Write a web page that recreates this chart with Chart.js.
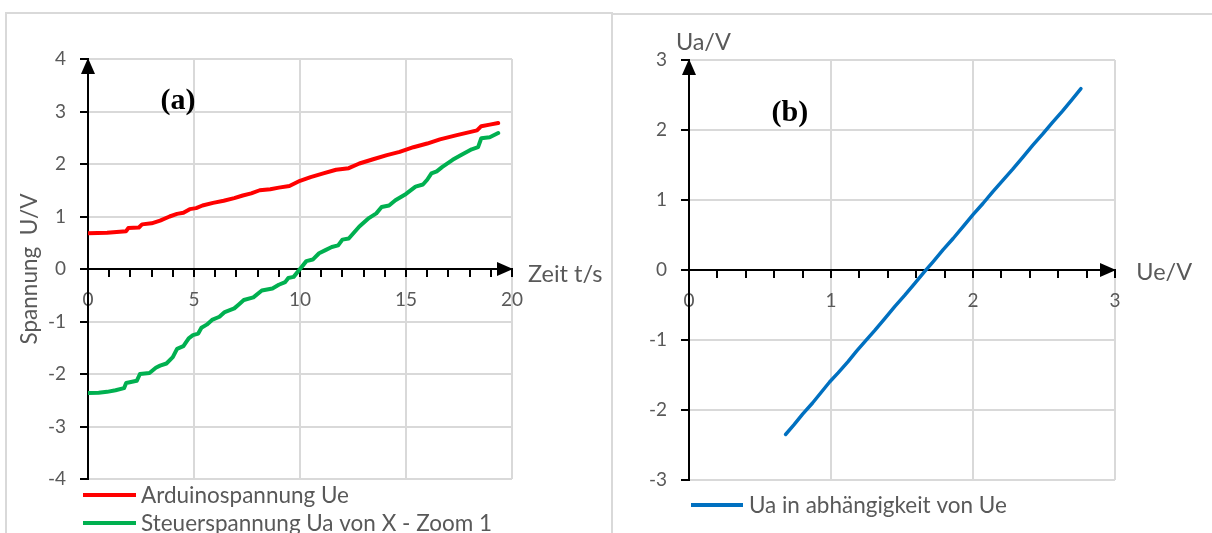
<!DOCTYPE html>
<html>
<head>
<meta charset="utf-8">
<script src="https://cdn.jsdelivr.net/npm/chart.js@4/dist/chart.umd.min.js"></script>
<style>
  html, body { margin: 0; padding: 0; background: #ffffff; width: 1212px; height: 533px; overflow: hidden; }
  .frame { position: absolute; box-sizing: border-box; border: 2px solid #d9d9d9; }
  #frameA { left: 5px; top: 12px; width: 608px; height: 540px; }
  #frameB { left: 611px; top: 13px; width: 620px; height: 540px; }
  canvas { position: absolute; top: 0; }
  #chartA { left: 0; }
  #chartB { left: 612px; }
</style>
</head>
<body>
<div class="frame" id="frameA"></div>
<div class="frame" id="frameB"></div>
<canvas id="chartA" width="611" height="533"></canvas>
<canvas id="chartB" width="600" height="533"></canvas>
<script>
// Panel (a): measured voltages over time
const timeUe = [0, 0.9, 1.5, 1.8, 1.9, 2.4, 2.55, 3.0, 3.4, 3.85, 4.2, 4.5, 4.8, 5.1, 5.4, 5.9, 6.4, 6.9, 7.3, 7.7,
                8.1, 8.6, 9.0, 9.5, 10.0, 10.5, 11.1, 11.7, 12.3, 12.8, 13.45, 14.1, 14.7, 15.35, 16.0, 16.6, 17.4, 18.35, 18.55, 18.95, 19.35];
const arduinoUe = [0.68, 0.69, 0.71, 0.72, 0.78, 0.79, 0.85, 0.87, 0.92, 1.0, 1.05, 1.07, 1.14, 1.16, 1.21, 1.26, 1.30, 1.35, 1.40, 1.44,
                   1.50, 1.52, 1.55, 1.58, 1.68, 1.75, 1.82, 1.89, 1.92, 2.01, 2.09, 2.17, 2.23, 2.32, 2.39, 2.47, 2.55, 2.64, 2.72, 2.75, 2.78];

const timeUa = [0, 0.5, 0.9, 1.3, 1.7, 1.8, 2.3, 2.45, 2.9, 3.2, 3.4, 3.7, 4.0, 4.2, 4.5, 4.75, 4.95, 5.2, 5.35, 5.6,
                5.85, 6.2, 6.45, 6.9, 7.1, 7.35, 7.8, 8.2, 8.7, 9.0, 9.3, 9.45, 9.7, 10.0, 10.3, 10.6, 10.9, 11.2, 11.5, 11.8,
                12.0, 12.3, 12.8, 13.25, 13.6, 13.85, 14.2, 14.5, 15.0, 15.45, 15.8, 16.0, 16.2, 16.45, 16.7, 17.2, 17.6, 18.1, 18.4, 18.55,
                18.95, 19.35];
const steuerUa = [-2.36, -2.355, -2.34, -2.31, -2.27, -2.17, -2.13, -2.0, -1.98, -1.88, -1.84, -1.80, -1.68, -1.52, -1.47, -1.32, -1.26, -1.23, -1.12, -1.06,
                  -0.97, -0.91, -0.82, -0.75, -0.68, -0.59, -0.54, -0.41, -0.37, -0.30, -0.25, -0.17, -0.15, 0.0, 0.15, 0.18, 0.30, 0.36, 0.42, 0.45,
                  0.56, 0.58, 0.81, 0.97, 1.06, 1.18, 1.21, 1.31, 1.43, 1.57, 1.61, 1.70, 1.82, 1.86, 1.94, 2.08, 2.17, 2.28, 2.32, 2.49,
                  2.51, 2.59];

// Panel (b): output voltage against input voltage
const ueB = [0.68, 0.74, 0.80, 0.87, 0.93, 0.99, 1.05, 1.12, 1.18, 1.24, 1.31, 1.38, 1.45, 1.52, 1.59, 1.66,
             1.72, 1.79, 1.86, 1.93, 2.00, 2.07, 2.14, 2.21, 2.28, 2.35, 2.42, 2.49, 2.56, 2.63, 2.70, 2.76];
const uaB = [-2.35, -2.21, -2.06, -1.90, -1.75, -1.60, -1.47, -1.31, -1.16, -1.02, -0.86, -0.69, -0.52, -0.36, -0.19, -0.02,
             0.12, 0.29, 0.45, 0.62, 0.79, 0.95, 1.12, 1.28, 1.44, 1.61, 1.78, 1.94, 2.11, 2.27, 2.44, 2.59];

// Tick labels
const timeTickLabels = [0, 5, 10, 15, 20];
const voltTickLabelsA = [-4, -3, -2, -1, 0, 1, 2, 3, 4];
const ueTickLabels = [0, 1, 2, 3];
const uaTickLabels = [-3, -2, -1, 0, 1, 2, 3];

const labelsA = ['Arduinospannung Ue', 'Steuerspannung Ua von X - Zoom 1'];
const labelsB = ['Ua in abhängigkeit von Ue'];

const TEXT = '#595959';
const GRID = '#d9d9d9';
Chart.defaults.font.family = 'Lato, "Open Sans", sans-serif';
Chart.defaults.color = TEXT;

const pairs = (xs, ys) => xs.map((x, i) => ({ x: x, y: ys[i] }));
const near = (v, list) => list.some(t => Math.abs(v - t) < 1e-6);

// Axis arrows, free text and the stacked legend
const decor = {
  id: 'decor',
  afterDraw(chart, args, opts) {
    const { ctx, chartArea: a, scales } = chart;
    const xs = scales.x, ys = scales.y;
    const x0 = xs.getPixelForValue(xs.min);
    const y0 = ys.getPixelForValue(0);
    ctx.save();
    ctx.fillStyle = '#000';
    // arrow on the vertical axis
    ctx.beginPath();
    ctx.moveTo(x0, a.top - 1);
    ctx.lineTo(x0 - 7, a.top + 15);
    ctx.lineTo(x0 + 7, a.top + 15);
    ctx.closePath();
    ctx.fill();
    // arrow on the horizontal axis
    ctx.beginPath();
    ctx.moveTo(a.right + 1, y0);
    ctx.lineTo(a.right - 15, y0 - 7);
    ctx.lineTo(a.right - 15, y0 + 7);
    ctx.closePath();
    ctx.fill();

    (opts.notes || []).forEach(n => {
      ctx.font = n.font;
      ctx.fillStyle = n.color;
      ctx.textAlign = n.align;
      ctx.textBaseline = 'middle';
      ctx.fillText(n.text, xs.getPixelForValue(n.x), ys.getPixelForValue(n.y));
    });

    const lg = opts.legend;
    ctx.font = lg.font;
    ctx.textAlign = 'left';
    ctx.textBaseline = 'middle';
    chart.data.datasets.forEach((ds, i) => {
      const y = a.bottom + lg.dy + i * lg.rowGap;
      const x = a.left + lg.dx;
      ctx.strokeStyle = ds.borderColor;
      ctx.lineWidth = 4;
      ctx.lineCap = 'butt';
      ctx.beginPath();
      ctx.moveTo(x, y);
      ctx.lineTo(x + lg.sample, y);
      ctx.stroke();
      ctx.fillStyle = TEXT;
      ctx.fillText(ds.label, x + lg.sample + lg.gap, y + 1);
    });
    ctx.restore();
  }
};

function lineSet(label, data, color, width) {
  return {
    label: label, data: data, showLine: true, borderColor: color, backgroundColor: color,
    borderWidth: width, pointRadius: 0, pointHoverRadius: 0, tension: 0,
    borderCapStyle: 'round', borderJoinStyle: 'round'
  };
}

function xAxis(min, max, step, labels, gridAt) {
  return {
    type: 'linear', min: min, max: max, position: { y: 0 },
    afterFit: s => { s.height = 0; },
    ticks: {
      stepSize: step, autoSkip: false, maxRotation: 0, padding: 12,
      font: { size: 19 }, color: TEXT,
      callback: v => near(v, labels) ? String(Math.round(v)) : ''
    },
    grid: {
      color: c => (c.tick && near(c.tick.value, gridAt)) ? GRID : 'rgba(0,0,0,0)',
      lineWidth: 2, tickColor: '#000', tickLength: 7, tickWidth: 2
    },
    border: { color: '#000', width: 2 }
  };
}

function yAxis(min, max, labels, width, title) {
  return {
    type: 'linear', min: min, max: max, position: 'left',
    afterFit: s => { s.width = width; },
    ticks: {
      stepSize: 1, autoSkip: false, padding: 14, font: { size: 19 }, color: TEXT,
      callback: v => near(v, labels) ? String(v) : ''
    },
    grid: { color: GRID, lineWidth: 2, tickColor: '#000', tickLength: 8, tickWidth: 2 },
    border: { color: '#000', width: 2 },
    title: title
  };
}

new Chart(document.getElementById('chartA'), {
  type: 'scatter',
  data: {
    datasets: [
      lineSet(labelsA[0], pairs(timeUe, arduinoUe), '#ff0000', 4),
      lineSet(labelsA[1], pairs(timeUa, steuerUa), '#00b050', 4)
    ]
  },
  options: {
    responsive: false, animation: false, devicePixelRatio: 1,
    layout: { padding: { left: 0, top: 59, right: 99, bottom: 54 } },
    scales: {
      x: xAxis(0, 20, 1, timeTickLabels, timeTickLabels),
      y: yAxis(-4, 4, voltTickLabelsA, 88, {
        display: true, text: 'Spannung  U/V', color: TEXT,
        font: { size: 22.5 }, padding: { top: 16, bottom: 0 }
      })
    },
    plugins: {
      legend: { display: false }, tooltip: { enabled: false },
      decor: {
        notes: [
          { text: '(a)', x: 4.25, y: 3.19, font: 'bold 30px "Liberation Serif", serif', color: '#000', align: 'center' },
          { text: 'Zeit t/s', x: 20.75, y: -0.1, font: '23.5px Lato, sans-serif', color: TEXT, align: 'left' }
        ],
        legend: { font: '22.5px Lato, sans-serif', dx: -5, dy: 16, rowGap: 28, sample: 53, gap: 5 }
      }
    }
  },
  plugins: [decor]
});

new Chart(document.getElementById('chartB'), {
  type: 'scatter',
  data: {
    datasets: [
      lineSet(labelsB[0], pairs(ueB, uaB), '#0070c0', 3.5)
    ]
  },
  options: {
    responsive: false, animation: false, devicePixelRatio: 1,
    layout: { padding: { left: 0, top: 60, right: 97, bottom: 53 } },
    scales: {
      x: xAxis(0, 3, 0.2, ueTickLabels, ueTickLabels),
      y: yAxis(-3, 3, uaTickLabels, 77, { display: false })
    },
    plugins: {
      legend: { display: false }, tooltip: { enabled: false },
      decor: {
        notes: [
          { text: '(b)', x: 0.71, y: 2.235, font: 'bold 30px "Liberation Serif", serif', color: '#000', align: 'center' },
          { text: 'Ue/V', x: 3.15, y: -0.03, font: '23.5px Lato, sans-serif', color: TEXT, align: 'left' },
          { text: 'Ua/V', x: -0.092, y: 3.257, font: '23.5px Lato, sans-serif', color: TEXT, align: 'left' }
        ],
        legend: { font: '22.5px Lato, sans-serif', dx: 2, dy: 25, rowGap: 28, sample: 52, gap: 6 }
      }
    }
  },
  plugins: [decor]
});
</script>
</body>
</html>
